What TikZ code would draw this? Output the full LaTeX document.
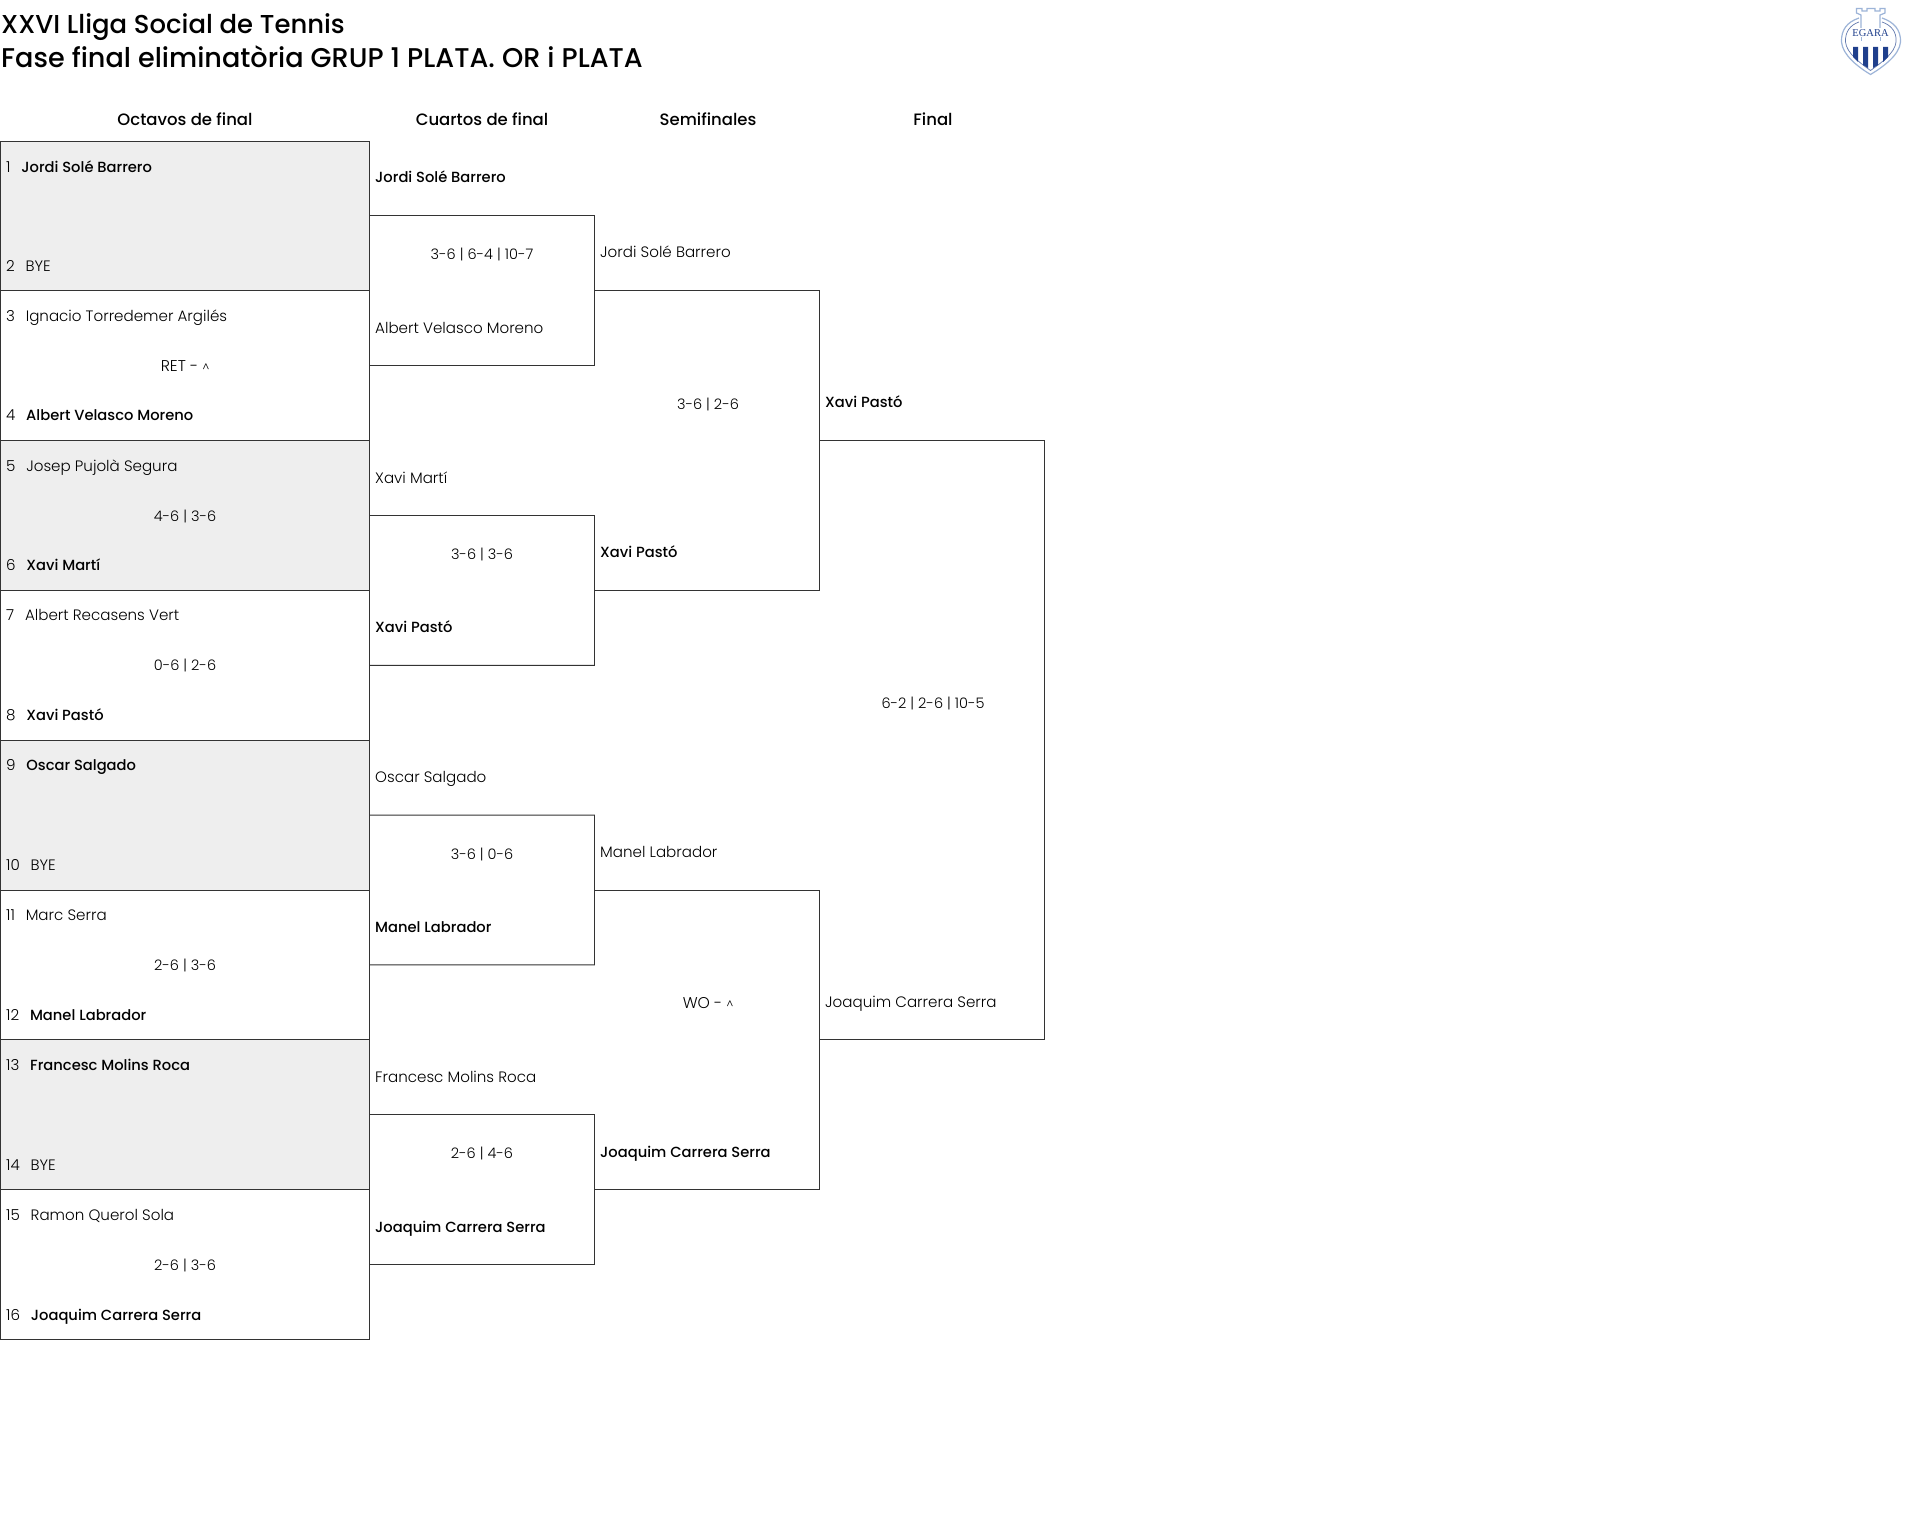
\documentclass[tikz,border=0pt]{standalone}
\usepackage{fontspec}
\setmainfont{Poppins Light}
\newfontfamily\winfont{Poppins Medium}
\newfontfamily\headfont{Poppins Medium}
\definecolor{linegrey}{HTML}{333333}
\definecolor{byegrey}{HTML}{EEEEEE}
\definecolor{egnavy}{HTML}{1F3F8C}
\definecolor{eglight}{HTML}{9DB4D8}
\tikzset{
  x=1pt,y=-1pt,
  line/.style={draw=linegrey,line width=0.9pt},
  cell/.style={line,minimum width=369.8pt,minimum height=149.8pt,inner sep=0pt,outer sep=0pt,anchor=north west},
  bye/.style={cell,fill=byegrey},
  txt/.style={inner sep=0pt,anchor=base west,font=\fontsize{15.1}{18}\selectfont,text=black},
  res/.style={inner sep=0pt,anchor=base,font=\fontsize{14.5}{18}\selectfont,text=black},
  resw/.style={res,font=\fontsize{15.6}{18}\selectfont},
  hdr/.style={inner sep=0pt,anchor=base,font=\headfont\fontsize{16.5}{20}\selectfont,text=black},
  ttlA/.style={inner sep=0pt,anchor=base west,font=\headfont\fontsize{25.9}{30}\selectfont,text=black},
  ttlB/.style={inner sep=0pt,anchor=base west,font=\headfont\fontsize{27.1}{30}\selectfont,text=black},
}
\newcommand{\win}[1]{{\winfont\fontsize{14.7}{18}\selectfont #1}}
\newcommand{\gp}{\ \ \hspace{2.5pt}}
\newcommand{\caretmark}{{\fontsize{11}{12}\selectfont\textasciicircum}}
\begin{document}
\begin{tikzpicture}
\useasboundingbox (0,0) rectangle (1920,1525);
\fill[white] (0,0) rectangle (1920,1525);
% titles
\node[ttlA] (t1) at (1,34) {XXVI Lliga Social de Tennis};
\node[ttlB] (t2) at (1,68) {Fase final eliminatòria GRUP 1 PLATA. OR i PLATA};
% headers
\node[hdr] (h1) at (185,126) {Octavos de final};
\node[hdr] (h2) at (482,126) {Cuartos de final};
\node[hdr] (h3) at (708,126) {Semifinales};
\node[hdr] (h4) at (933,126) {Final};
% first-round cells
\node[bye]  (c1) at (0,141.0) {};
\node[cell] (c2) at (0,290.8) {};
\node[bye]  (c3) at (0,440.6) {};
\node[cell] (c4) at (0,590.4) {};
\node[bye]  (c5) at (0,740.2) {};
\node[cell] (c6) at (0,890.0) {};
\node[bye]  (c7) at (0,1039.8) {};
\node[cell] (c8) at (0,1189.6) {};
% second round brackets
\coordinate (q1a) at (c1.east); \coordinate (q1b) at (c2.east);
\coordinate (q2a) at (c3.east); \coordinate (q2b) at (c4.east);
\coordinate (q3a) at (c5.east); \coordinate (q3b) at (c6.east);
\coordinate (q4a) at (c7.east); \coordinate (q4b) at (c8.east);
\coordinate (qx1) at (594.5,215.9);  \coordinate (qx2) at (594.5,515.5);
\coordinate (qx3) at (594.5,815.1);  \coordinate (qx4) at (594.5,1114.7);
\coordinate (qy1) at (594.5,365.7);  \coordinate (qy2) at (594.5,665.3);
\coordinate (qy3) at (594.5,964.9);  \coordinate (qy4) at (594.5,1264.5);
\draw[line] (q1a) -- (qx1) -- (qy1) -- (q1b);
\draw[line] (q2a) -- (qx2) -- (qy2) -- (q2b);
\draw[line] (q3a) -- (qx3) -- (qy3) -- (q3b);
\draw[line] (q4a) -- (qx4) -- (qy4) -- (q4b);
% semifinal brackets
\coordinate (sx1) at (819.3,290.8); \coordinate (sy1) at (819.3,590.4);
\coordinate (sx2) at (819.3,890.0); \coordinate (sy2) at (819.3,1189.6);
\draw[line] (594.5,290.8) coordinate (s1a) -- (sx1) -- (sy1) -- (594.5,590.4) coordinate (s1b);
\draw[line] (594.5,890.0) coordinate (s2a) -- (sx2) -- (sy2) -- (594.5,1189.6) coordinate (s2b);
% final bracket
\coordinate (fx) at (1044.7,440.6); \coordinate (fy) at (1044.7,1039.8);
\draw[line] (819.3,440.6) coordinate (fa) -- (fx) -- (fy) -- (819.3,1039.8) coordinate (fb);
% first round text
\node[txt] (p1) at (6,173) {1\gp\win{Jordi Solé Barrero}};
\node[txt] (p2) at (6,271) {2\gp BYE};
\node[txt] (p3) at (6,321) {3\gp Ignacio Torredemer Argilés};
\node[resw] (r2) at (185,371) {RET - \caretmark};
\node[txt] (p4) at (6,420) {4\gp\win{Albert Velasco Moreno}};
\node[txt] (p5) at (6,471) {5\gp Josep Pujolà Segura};
\node[res] (r3) at (185,521) {4-6 | 3-6};
\node[txt] (p6) at (6,570.5) {6\gp\win{Xavi Martí}};
\node[txt] (p7) at (6,620.5) {7\gp Albert Recasens Vert};
\node[res] (r4) at (185,670.5) {0-6 | 2-6};
\node[txt] (p8) at (6,720) {8\gp\win{Xavi Pastó}};
\node[txt] (p9) at (6,770) {9\gp\win{Oscar Salgado}};
\node[txt] (p10) at (6,870.5) {10\gp BYE};
\node[txt] (p11) at (6,920.5) {11\gp Marc Serra};
\node[res] (r6) at (185,970.5) {2-6 | 3-6};
\node[txt] (p12) at (6,1020.5) {12\gp\win{Manel Labrador}};
\node[txt] (p13) at (6,1070.5) {13\gp\win{Francesc Molins Roca}};
\node[txt] (p14) at (6,1170.5) {14\gp BYE};
\node[txt] (p15) at (6,1220) {15\gp Ramon Querol Sola};
\node[res] (r8) at (185,1270) {2-6 | 3-6};
\node[txt] (p16) at (6,1320) {16\gp\win{Joaquim Carrera Serra}};
% second round text
\node[txt] (n1) at (375,183) {\win{Jordi Solé Barrero}};
\node[res] (m1) at (482,259) {3-6 | 6-4 | 10-7};
\node[txt] (n2) at (375,333) {Albert Velasco Moreno};
\node[txt] (n3) at (375,483) {Xavi Martí};
\node[res] (m2) at (482,559) {3-6 | 3-6};
\node[txt] (n4) at (375,632.5) {\win{Xavi Pastó}};
\node[txt] (n5) at (375,782.5) {Oscar Salgado};
\node[res] (m3) at (482,859) {3-6 | 0-6};
\node[txt] (n6) at (375,932.5) {\win{Manel Labrador}};
\node[txt] (n7) at (375,1082.5) {Francesc Molins Roca};
\node[res] (m4) at (482,1158.5) {2-6 | 4-6};
\node[txt] (n8) at (375,1232) {\win{Joaquim Carrera Serra}};
% semifinal text
\node[txt] (o1) at (600,258) {Jordi Solé Barrero};
\node[res] (k1) at (708,409) {3-6 | 2-6};
\node[txt] (o2) at (600,557.5) {\win{Xavi Pastó}};
\node[txt] (o3) at (600,857.5) {Manel Labrador};
\node[resw] (k2) at (708,1008) {WO - \caretmark};
\node[txt] (o4) at (600,1157) {\win{Joaquim Carrera Serra}};
% final text
\node[txt] (w1) at (825,407) {\win{Xavi Pastó}};
\node[res] (z1) at (933,708.5) {6-2 | 2-6 | 10-5};
\node[txt] (w2) at (825,1007) {Joaquim Carrera Serra};
% logo
\begin{scope}[shift={(1820,0)}]
 \fill[white,draw=eglight,line width=1.2pt] (39,18) .. controls (27,22) and (21,30) .. (21.5,42) .. controls (22.5,55) and (38,67) .. (50.5,74.5) .. controls (63,67) and (79.5,55) .. (80.5,42) .. controls (81,30) and (74,22) .. (62,18);
 \draw[egnavy!70,line width=0.7pt] (39,22) .. controls (30,25) and (25,32) .. (25.5,42) .. controls (26.5,53) and (40,63) .. (50.5,70.5) .. controls (61,63) and (75,53) .. (76,42) .. controls (77,32) and (71,25) .. (62,22);
 \fill[egnavy] (33,47) -- (38,47) -- (38,62) -- (33,57) -- cycle;
 \fill[egnavy] (43,47) -- (48,47) -- (48,68) -- (43,65) -- cycle;
 \fill[egnavy] (53,47) -- (58,47) -- (58,65) -- (53,68) -- cycle;
 \fill[egnavy] (63,47) -- (68,47) -- (68,57) -- (63,62) -- cycle;
 \draw[eglight,line width=1.2pt] (41,28) -- (41,15) -- (36.5,13) -- (36.5,8.5) -- (42,8.5) -- (42,11) -- (47,11) -- (47,8.5) -- (55,8.5) -- (55,11) -- (60,11) -- (60,8.5) -- (65,8.5) -- (65,13) -- (60,15) -- (60,28);
 \node[inner sep=0pt,text=egnavy,font=\fontspec{Liberation Serif}\fontsize{10.5}{10}\selectfont] (logotext) at (50.5,33) {EGARA};
 \draw[eglight,line width=1pt] (41,37) -- (41,41) (60,37) -- (60,41);
\end{scope}
\end{tikzpicture}
\end{document}
